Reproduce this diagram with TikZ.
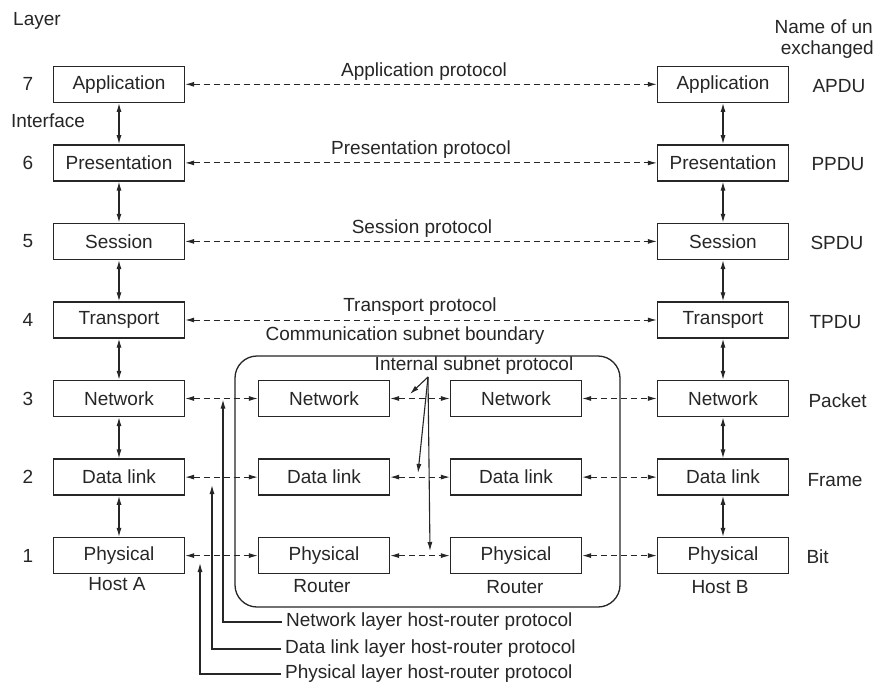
\documentclass[tikz,border=0pt]{standalone}
\usepackage{fontspec}
\setmainfont{Liberation Sans}
\usetikzlibrary{arrows.meta}
\definecolor{ink}{RGB}{38,38,38}
\newcommand\osifont{\fontsize{19}{22}\selectfont}
\begin{document}
\begin{tikzpicture}[x=1pt,y=-1pt,
  every node/.style={text=ink,font=\osifont},
  layerbox/.style={draw=ink,line width=1.3pt,minimum width=131pt,minimum height=36pt,inner sep=0pt},
  iface/.style={draw=ink,line width=1.2pt,{Latex[length=9pt,width=5pt]}-{Latex[length=9pt,width=5pt]}},
  peer/.style={draw=ink,line width=1pt,dash pattern=on 6pt off 4pt,{Latex[length=9pt,width=5pt]}-{Latex[length=9pt,width=5pt]}},
  pointer/.style={draw=ink,line width=1.1pt,-{Latex[length=9pt,width=5pt]}},
  lnum/.style={anchor=center},
  pdu/.style={anchor=west},
  caption/.style={anchor=center}]
\useasboundingbox (0,0) rectangle (882,687);
\fill[white] (0,0) rectangle (882,687);

% headings
\node (hlayer) at (37,21) {Layer};
\node (hiface) at (48,121) {Interface};
\node[anchor=east,inner sep=0pt] (hname1) at (873,27) {Name of un};
\node[anchor=east,inner sep=0pt] (hname2) at (874,50) {exchanged};

% layer numbers
\foreach \n/\y in {7/84.3,6/162.9,5/241.4,4/320,3/398.5,2/477.1,1/555.6}
  \node[lnum] (num\n) at (28,\y) {\n};

% host A
\node[layerbox] (LA)  at (119,84.3)  {Application};
\node[layerbox] (LP)  at (119,162.9) {Presentation};
\node[layerbox] (LS)  at (119,241.4) {Session};
\node[layerbox] (LT)  at (119,320)   {Transport};
\node[layerbox] (LN)  at (119,398.5) {Network};
\node[layerbox] (LD)  at (119,477.1) {Data link};
\node[layerbox] (LPh) at (119,555.6) {Physical};
\node[caption] (hostA) at (117,584) {Host A};

% host B
\node[layerbox] (RA)  at (723,84.3)  {Application};
\node[layerbox] (RP)  at (723,162.9) {Presentation};
\node[layerbox] (RS)  at (723,241.4) {Session};
\node[layerbox] (RT)  at (723,320)   {Transport};
\node[layerbox] (RN)  at (723,398.5) {Network};
\node[layerbox] (RD)  at (723,477.1) {Data link};
\node[layerbox] (RPh) at (723,555.6) {Physical};
\node[caption] (hostB) at (720,587) {Host B};

% PDU names
\node[pdu] (pA) at (809,86)  {APDU};
\node[pdu] (pP) at (808,164) {PPDU};
\node[pdu] (pS) at (807,243) {SPDU};
\node[pdu] (pT) at (806,322) {TPDU};
\node[pdu] (pN) at (805,401) {Packet};
\node[pdu] (pD) at (804,480) {Frame};
\node[pdu] (pB) at (803,557) {Bit};

% communication subnet
\node[draw=ink,line width=1.3pt,rounded corners=22pt,minimum width=385pt,minimum height=251pt,inner sep=0pt]
  (subnet) at (427.5,481.5) {};
\node (subcap) at (405,336) {Communication subnet boundary};
\node (intcap) at (474,366) {Internal subnet protocol};

\node[layerbox] (AN)  at (324,398.5) {Network};
\node[layerbox] (AD)  at (324,477.1) {Data link};
\node[layerbox] (APh) at (324,555.6) {Physical};
\node[caption] (rtA) at (322,586) {Router};

\node[layerbox] (BN)  at (516,398.5) {Network};
\node[layerbox] (BD)  at (516,477.1) {Data link};
\node[layerbox] (BPh) at (516,555.6) {Physical};
\node[caption] (rtB) at (515,587) {Router};

% interfaces between adjacent layers
\foreach \a/\b in {LA/LP,LP/LS,LS/LT,LT/LN,LN/LD,LD/LPh,RA/RP,RP/RS,RS/RT,RT/RN,RN/RD,RD/RPh}
  \draw[iface] (\a.south) -- (\b.north);

% peer protocols
\draw[peer] (LA.east) -- (RA.west);
\draw[peer] (LP.east) -- (RP.west);
\draw[peer] (LS.east) -- (RS.west);
\draw[peer] (LT.east) -- (RT.west);
\node (capA) at (424,72)  {Application protocol};
\node (capP) at (421,150) {Presentation protocol};
\node (capS) at (422,229) {Session protocol};
\node (capT) at (420,307) {Transport protocol};

\foreach \row in {N,D,Ph} {
  \draw[peer] (L\row.east) -- (A\row.west);
  \draw[peer] (A\row.east) -- (B\row.west);
  \draw[peer] (B\row.east) -- (R\row.west);
}

% internal subnet protocol pointers
\coordinate (isp) at (428,377);
\coordinate (ispN) at (410,394);
\coordinate (ispD) at (418,473);
\coordinate (ispP) at (430,551);
\draw[pointer] (isp) -- (ispN);
\draw[pointer] (isp) -- (ispD);
\draw[pointer] (isp) -- (ispP);

% host-router protocols
\node[anchor=west,inner sep=4pt] (hrN) at (282,622) {Network layer host-router protocol};
\node[anchor=west,inner sep=4pt] (hrD) at (281,649) {Data link layer host-router protocol};
\node[anchor=west,inner sep=4pt] (hrP) at (281,674) {Physical layer host-router protocol};
\coordinate (hrNt) at (223,399.5);
\coordinate (hrDt) at (212,485);
\coordinate (hrPt) at (200,563);
\draw[pointer] (hrN.west) -| (hrNt);
\draw[pointer] (hrD.west) -| (hrDt);
\draw[pointer] (hrP.west) -| (hrPt);
\end{tikzpicture}
\end{document}
